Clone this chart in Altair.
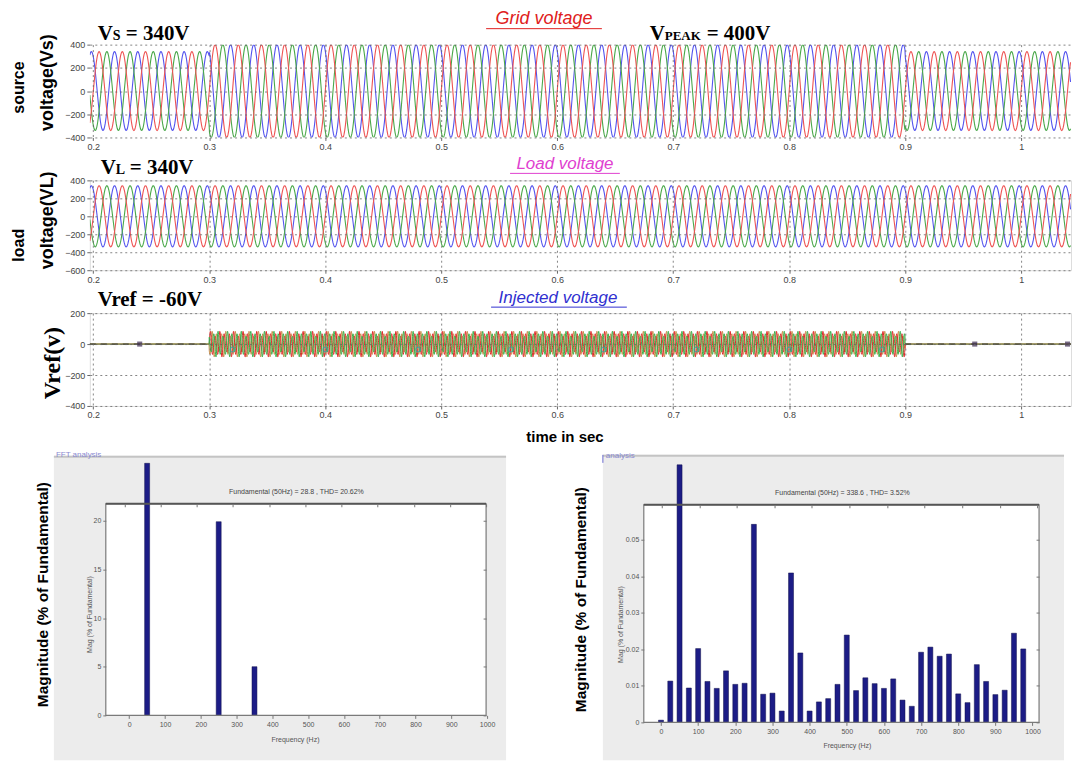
import altair as alt
import numpy as np
import pandas as pd

# ------------------------------------------------------------------ data
time_ticks = [0.2, 0.3, 0.4, 0.5, 0.6, 0.7, 0.8, 0.9, 1.0]
time_domain = [0.197, 1.043]
segment_bounds = [0.197, 0.3, 0.9, 1.043]      # s : before / during / after the swell
grid_peak = [340, 400, 340]                      # V  source voltage peak
load_peak = [340, 340, 340]                      # V  load voltage peak
inj_5th_peak = [0, 68, 0]                        # V  injected voltage, 5th harmonic part
inj_7th_peak = [0, 17, 0]                        # V  injected voltage, 7th harmonic part
fundamental_hz = 50
phase_names = ["phase c", "phase b", "phase a"]  # drawing order (bottom -> top)
phase_shift_deg = [120, -120, 0]
phase_colors = ["#5454ee", "#4aa84a", "#ee5454"]
inj_phase_names = ["phase c", "phase a", "phase b"]
inj_phase_shift_deg = [120, 0, -120]
inj_phase_colors = ["#c8904c", "#e02a2a", "#3cb04c"]

src_ticks = [-400, -200, 0, 200, 400]
load_ticks = [-600, -400, -200, 0, 200, 400]
inj_ticks = [-400, -200, 0, 200]

square_marker_t = [0.24, 0.96, 1.04]
circle_marker_t = [0.32, 0.40, 0.48, 0.56, 0.64, 0.72, 0.80, 0.88]
circle_marker_v = [-35, -35, -35, -35, -35, -35, -35, -35]

freq_ticks = [0, 100, 200, 300, 400, 500, 600, 700, 800, 900, 1000]
fft1_freq = [50, 250, 350]
fft1_mag = [25.9, 19.9, 5.0]
fft1_ticks = [0, 5, 10, 15, 20]
fft2_freq = [0, 25, 50, 75, 100, 125, 150, 175, 200, 225,
             250, 275, 300, 325, 350, 375, 400, 425, 450, 475,
             500, 525, 550, 575, 600, 625, 650, 675, 700, 725,
             750, 775, 800, 825, 850, 875, 900, 925, 950, 975]
fft2_mag = [0.0006, 0.0113, 0.0705, 0.0094, 0.0202, 0.0112, 0.0093, 0.0141, 0.0104, 0.0107,
            0.0542, 0.0077, 0.0080, 0.0031, 0.0409, 0.0190, 0.0031, 0.0056, 0.0065, 0.0104,
            0.0239, 0.0087, 0.0122, 0.0106, 0.0093, 0.0119, 0.0061, 0.0044, 0.0192, 0.0206,
            0.0181, 0.0187, 0.0078, 0.0054, 0.0158, 0.0112, 0.0076, 0.0088, 0.0244, 0.0201]
fft2_ticks = [0, 0.01, 0.02, 0.03, 0.04, 0.05]


# ------------------------------------------------------------------ waveform tables
def piecewise(t, values):
    idx = np.clip(np.searchsorted(segment_bounds, t, side="right") - 1, 0, len(values) - 1)
    return np.asarray(values, dtype=float)[idx]


def three_phase(peaks, step):
    t = np.arange(time_domain[0], time_domain[1], step)
    rows = []
    for name, sh in zip(phase_names, phase_shift_deg):
        v = piecewise(t, peaks) * np.sin(2 * np.pi * fundamental_hz * t + np.radians(sh))
        rows.append(pd.DataFrame({"t": t.round(5), "v": v.round(1), "phase": name}))
    return rows


def injected(step):
    t = np.arange(time_domain[0], time_domain[1], step)
    rows = []
    for name, sh in zip(inj_phase_names, inj_phase_shift_deg):
        v = (piecewise(t, inj_5th_peak) * np.sin(2 * np.pi * 5 * fundamental_hz * t + 5 * np.radians(sh))
             + piecewise(t, inj_7th_peak) * np.sin(2 * np.pi * 7 * fundamental_hz * t + 7 * np.radians(sh)))
        rows.append(pd.DataFrame({"t": t.round(5), "v": v.round(1), "phase": name}))
    return rows


src_rows = three_phase(grid_peak, 0.0004)
load_rows = three_phase(load_peak, 0.0004)
inj_rows = injected(0.0002)

ONE = pd.DataFrame({"k": [0]})
W = 983
NB = "\u00a0"


def label(text, x, y, size, color="#000000", font="Liberation Sans", weight="normal",
          style="normal", angle=0, align="center", baseline="middle"):
    return alt.Chart(ONE).mark_text(
        text=text, fontSize=size, color=color, font=font, fontWeight=weight,
        fontStyle=style, angle=angle, align=align, baseline=baseline
    ).encode(x=alt.value(x), y=alt.value(y))


def uline(x1, x2, y, color, sw=1):
    return alt.Chart(ONE).mark_rule(color=color, strokeWidth=sw).encode(
        x=alt.value(x1), x2=alt.value(x2), y=alt.value(y))


def vline(x, y1, y2, color, sw=1):
    return alt.Chart(ONE).mark_rule(color=color, strokeWidth=sw).encode(
        x=alt.value(x), y=alt.value(y1), y2=alt.value(y2))


def box(x1, x2, y1, y2, fill, stroke="transparent", sw=0):
    return alt.Chart(ONE).mark_rect(fill=fill, stroke=stroke, strokeWidth=sw).encode(
        x=alt.value(x1), x2=alt.value(x2), y=alt.value(y1), y2=alt.value(y2))


WAX = dict(labelFontSize=9, labelColor="#444444", tickColor="#666666", tickSize=3,
           domain=False, grid=True, gridColor="#666666", gridDash=[2, 3], gridOpacity=0.8,
           zindex=1, title=None, labelPadding=2, labelFont="Liberation Sans")


def tx():
    return alt.X("t:Q", scale=alt.Scale(domain=time_domain, nice=False, zero=False),
                 axis=alt.Axis(values=time_ticks, format=".1~f", **WAX))


def vy(ydomain, yticks):
    return alt.Y("v:Q", scale=alt.Scale(domain=ydomain, nice=False, zero=False),
                 axis=alt.Axis(values=yticks, **WAX))


def wave_layers(rows, ydomain, yticks, colors, width=1.1):
    return [alt.Chart(df).mark_line(strokeWidth=width, clip=True, color=col).encode(
        x=tx(), y=vy(ydomain, yticks)) for df, col in zip(rows, colors)]


def vs_label(x, y, sub, rest, big=21, small=14, sub_w=13):
    return [
        label("V", x, y, big, font="Liberation Serif", weight="bold", align="left", baseline="alphabetic"),
        label(sub, x + 15, y, small, font="Liberation Serif", weight="bold", align="left", baseline="alphabetic"),
        label(rest, x + 15 + sub_w, y, big, font="Liberation Serif", weight="bold", align="left", baseline="alphabetic"),
    ]


# ------------------------------------------------------------------ panel 1 : source voltage
p1 = alt.layer(
    box(-89, 1073 - 89, -43, 761 - 43, "#ffffff"),
    *wave_layers(src_rows, [-400, 400], src_ticks, phase_colors),
    label("Grid voltage", 455, -26, 18, color="#e02020", style="italic"),
    uline(397, 513, -16, "#e02020"),
    *vs_label(8, -5, "S", "=" + NB + "340V"),
    *vs_label(561, -5, "PEAK", "=" + NB + "400V", small=13, sub_w=42),
    label("source", -71, 43, 16, weight="bold", angle=270),
    label("voltage(Vs)", -42, 38, 18, weight="bold", angle=270),
).properties(width=W, height=93)

# ------------------------------------------------------------------ panel 2 : load voltage
p2 = alt.layer(
    *wave_layers(load_rows, [-600, 400], load_ticks, phase_colors),
    label("Load voltage", 476, -16, 17, color="#e040d0", style="italic"),
    uline(421, 531, -7, "#e040d0"),
    *vs_label(11, -6, "L", "=" + NB + "340V", sub_w=14),
    label("load", -71, 65, 16, weight="bold", angle=270),
    label("voltage(VL)", -42, 40, 18, weight="bold", angle=270),
).properties(width=W, height=90)

# ------------------------------------------------------------------ panel 3 : injected voltage
sq = pd.DataFrame({"t": square_marker_t, "v": [0] * len(square_marker_t)})
ci = pd.DataFrame({"t": circle_marker_t, "v": circle_marker_v})
zero_seg = pd.DataFrame({"t": [segment_bounds[0], segment_bounds[2]],
                         "t2": [segment_bounds[1], segment_bounds[3]], "v": [0, 0]})
Y3 = ([-400, 200], inj_ticks)
p3 = alt.layer(
    *wave_layers(inj_rows, *Y3, inj_phase_colors, width=1.0),
    alt.Chart(zero_seg).mark_rule(color="#333333", strokeDash=[6, 5], strokeWidth=1).encode(
        x=tx(), x2="t2:Q", y=vy(*Y3)),
    alt.Chart(ci).mark_point(shape="circle", size=22, color="#3aa0a8", strokeWidth=1.2).encode(
        x=tx(), y=vy(*Y3)),
    alt.Chart(sq).mark_point(shape="square", size=26, color="#3a2a50", filled=True).encode(
        x=tx(), y=vy(*Y3)),
    label("Injected voltage", 469, -15, 17, color="#3030d0", style="italic"),
    uline(402, 538, -6, "#3030d0"),
    label("Vref" + NB + "=" + NB + "-60V", 8, -7, 21, font="Liberation Serif", weight="bold",
          align="left", baseline="alphabetic"),
    label("Vref(v)", -37, 50, 24, font="Liberation Serif", weight="bold", angle=270),
    label("time in sec", 476, 124, 15, weight="bold"),
).properties(width=W, height=93)

# ------------------------------------------------------------------ FFT panels (one layered view)
# bottom view: origin at (89, 448), 983 x 274 px; both FFT plots live inside it
BH = 274
L_PX = 381 / 1052.0           # px per Hz, left FFT
R_PX = 396 / 1053.0           # px per Hz, right FFT
L_X0, R_X0 = 16, 555          # plot-area left edges inside the view
L_W, R_W = 381, 396
L_TOP, L_BOT = 55, 267
R_TOP, R_BOT = 56, 274
l_xdom = [-52 - L_X0 / L_PX, -52 + (W - L_X0) / L_PX]
r_xdom = [-48 - R_X0 / R_PX, -48 + (W - R_X0) / R_PX]
l_ppu = (L_BOT - 72) / 20.0   # px per % (20 % tick at y=72)
l_ydom = [-(BH - L_BOT) / l_ppu, L_BOT / l_ppu]
r_ppu = (R_BOT - 91) / 0.05
r_ydom = [0, BH / r_ppu]

BAX = dict(labelFontSize=7, labelColor="#555555", tickColor="#777777", tickSize=3,
           domain=False, grid=False, zindex=1, title=None, labelPadding=2,
           labelFont="Liberation Sans")
TAX = dict(labels=False, tickColor="#777777", tickSize=3, domain=False, grid=False,
           zindex=1, title=None)
BAR = "#1c1c86"

fft1 = pd.DataFrame({"f": fft1_freq, "m": fft1_mag})
fft2 = pd.DataFrame({"f": fft2_freq, "m": fft2_mag})


def bars(df, xdom, ydom, yticks, x0, w, top, bot, ylab=None):
    yax = dict(BAX)
    if ylab:
        yax["labelExpr"] = ylab
    sx = alt.Scale(domain=xdom, nice=False, zero=False)
    sy = alt.Scale(domain=ydom, nice=False, zero=False)
    main = alt.Chart(df).mark_bar(size=5, color=BAR, stroke="#10104a", strokeWidth=0.5).encode(
        x=alt.X("f:Q", scale=sx, axis=alt.Axis(values=freq_ticks, format="d", orient="bottom",
                                               offset=-(BH - bot), **BAX)),
        y=alt.Y("m:Q", scale=sy, axis=alt.Axis(values=yticks, orient="left", offset=-x0, **yax)),
        y2=alt.datum(0),
    )
    # box ticks on the top and right edges (pointing inward)
    edge = alt.Chart(df).mark_point(opacity=0).encode(
        x=alt.X("f:Q", scale=sx, axis=alt.Axis(values=freq_ticks, orient="bottom",
                                               offset=-(BH - top), **TAX)),
        y=alt.Y("m:Q", scale=sy, axis=alt.Axis(values=yticks, orient="left",
                                               offset=-(x0 + w), **TAX)),
    )
    return [main, edge]


bottom = alt.layer(
    box(-36, 417, 7, 312, "#ececec"),
    uline(-36, 417, 8, "#c4c4c4", 2),
    box(514, 976, 6, 312, "#ececec"),
    uline(514, 976, 7, "#c4c4c4", 2),
    box(L_X0, L_X0 + L_W, L_TOP, L_BOT, "#ffffff"),
    box(R_X0, R_X0 + R_W, R_TOP, R_BOT, "#ffffff"),
    *bars(fft1, l_xdom, l_ydom, fft1_ticks, L_X0, L_W, L_TOP, L_BOT),
    *bars(fft2, r_xdom, r_ydom, fft2_ticks, R_X0, R_W, R_TOP, R_BOT,
          "datum.value == 0 ? '0' : format(datum.value, '.2f')"),
    box(L_X0, L_X0 + L_W, L_TOP, L_BOT, "transparent", stroke="#7a7a7a", sw=1.2),
    box(R_X0, R_X0 + R_W, R_TOP, R_BOT, "transparent", stroke="#7a7a7a", sw=1.2),
    uline(L_X0, L_X0 + L_W, L_TOP, "#555555", 1.8),
    uline(R_X0, R_X0 + R_W, R_TOP, "#555555", 1.8),
    label("Fundamental (50Hz) = 28.8 , THD= 20.62%", 207, 43, 7, color="#444444"),
    label("Fundamental (50Hz) = 338.6 , THD= 3.52%", 754, 44, 7, color="#444444"),
    label("Frequency (Hz)", 206, 292, 7, color="#555555"),
    label("Frequency (Hz)", 759, 298, 7, color="#555555"),
    label("Mag (% of Fundamental)", 0, 166, 7, color="#555555", angle=270),
    label("Mag (% of Fundamental)", 532, 176, 7, color="#555555", angle=270),
    label("Magnitude (% of Fundamental)", -47, 146, 15.5, weight="bold", angle=270),
    label("Magnitude (% of Fundamental)", 492, 151, 15.5, weight="bold", angle=270),
    label("FFT analysis", -34, 6, 8, color="#8a8ad0", align="left"),
    label("analysis", 517, 7, 8, color="#8a8ad0", align="left"),
    vline(514, 6, 14, "#6a6ad0"),
).resolve_scale(x="independent", y="independent").properties(
    width=W, height=BH, view=alt.ViewBackground(stroke="transparent"))

chart = alt.vconcat(p1, p2, p3, bottom, spacing=43, bounds="flush").properties(
    padding=0, background="#ffffff"
).configure_view(stroke="#7a7a7a", strokeWidth=1.2).configure(font="Liberation Sans")

chart.save("out.html", embed_options={"renderer": "svg", "actions": False})
